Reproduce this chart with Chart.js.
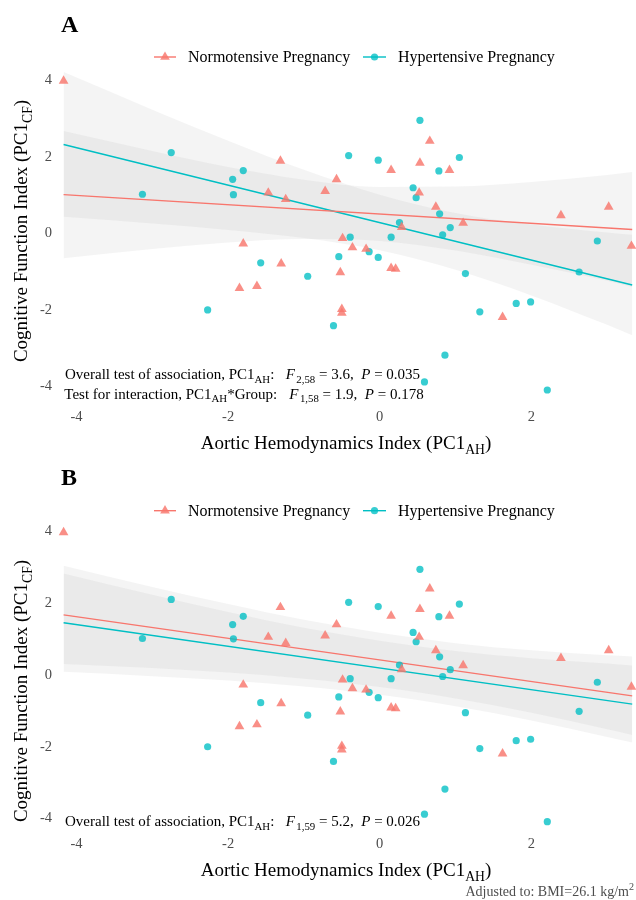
<!DOCTYPE html>
<html>
<head>
<meta charset="utf-8">
<script src="https://cdn.jsdelivr.net/npm/chart.js@4.4.0/dist/chart.umd.min.js"></script>
<style>
  html, body { margin: 0; padding: 0; background: #fff; }
  #wrap { position: relative; width: 636px; height: 900px; }
  .panel { position: absolute; left: 0; width: 636px; }
</style>
</head>
<body>
<div id="wrap">
  <div class="panel" style="top:0;height:458px"><canvas id="chartA"></canvas></div>
  <div class="panel" style="top:458px;height:442px"><canvas id="chartB"></canvas></div>
</div>
<script>
// ---- data ----
var normX  = [-4.17, -1.31, -1.47, -1.24, -0.72, -0.57, -1.80, 0.66, 0.15, 0.53, 0.92, 0.52, 0.74, 2.39, 3.02, 0.29, 1.10, -0.49, 3.32, -0.36, -0.18, -1.30, -1.85, -1.62, -0.52, -0.50, -0.50, 0.15, 0.21, 1.62];
var normY  = [3.98, 1.89, 1.06, 0.89, 1.10, 1.41, -0.27, 2.41, 1.65, 1.84, 1.65, 1.06, 0.69, 0.47, 0.69, 0.16, 0.27, -0.13, -0.33, -0.37, -0.41, -0.79, -1.43, -1.38, -1.02, -1.98, -2.08, -0.91, -0.93, -2.19];
var hyperX = [-2.75, -3.13, -1.94, -1.80, -1.93, 0.53, -0.41, -0.02, 0.78, 1.05, 0.44, 0.48, 0.79, 0.26, 0.93, 0.83, 0.15, -0.39, 2.87, -0.14, -0.54, -0.02, -1.57, -0.95, -2.27, -0.61, 1.13, 2.63, 1.80, 1.99, 1.32, 0.86, 0.59, 2.21];
var hyperY = [2.11, 1.02, 1.41, 1.64, 1.01, 2.95, 2.03, 1.91, 1.63, 1.98, 1.19, 0.93, 0.51, 0.28, 0.15, -0.04, -0.10, -0.10, -0.20, -0.48, -0.61, -0.63, -0.77, -1.12, -2.00, -2.41, -1.05, -1.01, -1.83, -1.79, -2.05, -3.18, -3.88, -4.09];

// fitted lines (ends) and confidence bands
var fitX = [-4.17, 3.33];
var aNormFit  = [1.01, 0.10];
var aHyperFit = [2.32, -1.35];
var bNormFit  = [1.68, -0.58];
var bHyperFit = [1.46, -0.81];

var bandX = [-4.17, -3, -2, -1, 0, 1, 2, 3, 3.33];
var aNormUpper  = [2.67, 2.15, 1.73, 1.40, 1.21, 1.22, 1.34, 1.52, 1.60];
var aNormLower  = [-0.65, -0.41, -0.24, -0.15, -0.20, -0.45, -0.82, -1.24, -1.40];
var aHyperUpper = [4.21, 3.23, 2.42, 1.66, 1.01, 0.53, 0.23, 0.02, -0.04];
var aHyperLower = [0.43, 0.26, 0.09, -0.12, -0.44, -0.95, -1.62, -2.39, -2.66];
var bNormUpper  = [3.05, 2.46, 1.98, 1.54, 1.18, 0.89, 0.69, 0.55, 0.52];
var bNormLower  = [0.31, 0.20, 0.07, -0.10, -0.33, -0.65, -1.05, -1.51, -1.67];
var bHyperUpper = [2.83, 2.24, 1.76, 1.32, 0.96, 0.67, 0.47, 0.32, 0.27];
var bHyperLower = [0.09, -0.03, -0.15, -0.32, -0.55, -0.87, -1.27, -1.73, -1.88];

var xTicks = [-4, -2, 0, 2];
var yTicks = [-4, -2, 0, 2, 4];

var groups = ['Normotensive Pregnancy', 'Hypertensive Pregnancy'];

// ---- styling ----
var RED = '#F8766D', TEAL = '#00BFC4';
var RED_PT = 'rgba(248,118,109,0.82)', TEAL_PT = 'rgba(0,191,196,0.78)';
var BAND = 'rgba(128,128,128,0.09)';
var SERIF = '"Liberation Serif", "Times New Roman", serif';
var TRI_R = 5.6, DOT_R = 3.6;

function pts(xs, ys) {
  return xs.map(function (x, i) { return { x: x, y: ys[i] }; });
}

function band(xs, ys, fillIt) {
  return {
    data: pts(xs, ys), showLine: true, borderWidth: 0, borderColor: 'transparent',
    pointRadius: 0, cubicInterpolationMode: 'monotone',
    fill: fillIt ? '-1' : false, backgroundColor: BAND, order: 3
  };
}

function makeDatasets(nFit, hFit, nUp, nLo, hUp, hLo) {
  return [
    { label: groups[0], data: pts(normX, normY), showLine: false, pointStyle: 'triangle',
      pointRadius: TRI_R, pointBackgroundColor: RED_PT, pointBorderWidth: 0,
      borderColor: 'transparent', clip: false, order: 0 },
    { label: groups[1], data: pts(hyperX, hyperY), showLine: false, pointStyle: 'circle',
      pointRadius: DOT_R, pointBackgroundColor: TEAL_PT, pointBorderWidth: 0,
      borderColor: 'transparent', clip: false, order: 0 },
    { data: pts(fitX, nFit), showLine: true, borderColor: RED, borderWidth: 1.4, pointRadius: 0, fill: false, order: 1 },
    { data: pts(fitX, hFit), showLine: true, borderColor: TEAL, borderWidth: 1.4, pointRadius: 0, fill: false, order: 1 },
    band(bandX, nLo, false),
    band(bandX, nUp, true),
    band(bandX, hLo, false),
    band(bandX, hUp, true)
  ];
}

// ---- rich text helpers (sub/superscripts, italics) ----
function fontFor(p, size) {
  var s = (p.sub || p.sup) ? size * 0.72 : size;
  return (p.italic ? 'italic ' : '') + (p.bold ? 'bold ' : '') + s + 'px ' + SERIF;
}
function richWidth(ctx, parts, size) {
  var w = 0;
  parts.forEach(function (p) { ctx.font = fontFor(p, size); w += (p.dx || 0) + ctx.measureText(p.t).width; });
  return w;
}
function drawRich(ctx, parts, x, y, size, align) {
  var w = richWidth(ctx, parts, size);
  if (align === 'center') x -= w / 2;
  else if (align === 'right') x -= w;
  ctx.textAlign = 'left';
  ctx.textBaseline = 'alphabetic';
  parts.forEach(function (p) {
    ctx.font = fontFor(p, size);
    x += p.dx || 0;
    var dy = p.sub ? size * 0.25 : (p.sup ? -size * 0.4 : 0);
    ctx.fillText(p.t, x, y + dy);
    x += ctx.measureText(p.t).width;
  });
}

function drawLegend(ctx, cy) {
  ctx.save();
  ctx.lineWidth = 1.4;
  // normotensive key
  ctx.strokeStyle = RED;
  ctx.beginPath(); ctx.moveTo(154, cy); ctx.lineTo(176, cy); ctx.stroke();
  ctx.fillStyle = RED_PT;
  var r = TRI_R;
  ctx.beginPath();
  ctx.moveTo(165, cy - r);
  ctx.lineTo(165 + r * 0.866, cy + r / 2);
  ctx.lineTo(165 - r * 0.866, cy + r / 2);
  ctx.closePath(); ctx.fill();
  // hypertensive key
  ctx.strokeStyle = TEAL;
  ctx.beginPath(); ctx.moveTo(363, cy); ctx.lineTo(386, cy); ctx.stroke();
  ctx.fillStyle = TEAL_PT;
  ctx.beginPath(); ctx.arc(374.5, cy, DOT_R, 0, Math.PI * 2); ctx.fill();
  ctx.fillStyle = '#000';
  drawRich(ctx, [{ t: groups[0] }], 188, cy + 5.3, 16);
  drawRich(ctx, [{ t: groups[1] }], 398, cy + 5.3, 16);
  ctx.restore();
}

function textPlugin(cfg) {
  return {
    id: 'texts',
    afterDraw: function (chart) {
      var ctx = chart.ctx;
      ctx.save();
      ctx.fillStyle = '#000';
      drawRich(ctx, [{ t: cfg.tag, bold: true }], 61, cfg.tagY, 24);
      drawLegend(ctx, cfg.legendY);
      cfg.notes.forEach(function (n) {
        drawRich(ctx, n.left, n.x, n.y, 15);
        drawRich(ctx, n.right, n.fx, n.y, 15);
      });
      drawRich(ctx, [{ t: 'Aortic Hemodynamics Index (PC1' }, { t: 'AH', sub: true }, { t: ')' }], 346, cfg.xTitleY, 19, 'center');
      ctx.save();
      ctx.translate(27, cfg.yTitleY);
      ctx.rotate(-Math.PI / 2);
      drawRich(ctx, [{ t: 'Cognitive Function Index (PC1' }, { t: 'CF', sub: true }, { t: ')' }], 0, 0, 19, 'center');
      ctx.restore();
      if (cfg.footer) {
        ctx.fillStyle = '#4D4D4D';
        drawRich(ctx, [{ t: 'Adjusted to: BMI=26.1 kg/m' }, { t: '2', sup: true }], 634, cfg.footer, 14, 'right');
      }
      ctx.restore();
    }
  };
}

function fStat(df, f, p) {
  return [{ t: 'F', italic: true }, { t: df, sub: true, dx: 1.5 }, { t: ' = ' + f + ',  ' }, { t: 'P', italic: true }, { t: ' = ' + p }];
}

function makeChart(id, datasets, yMin, yMax, padTop, padBottom, cfg) {
  return new Chart(document.getElementById(id), {
    type: 'line',
    data: { datasets: datasets },
    options: {
      responsive: true,
      maintainAspectRatio: false,
      animation: false,
      layout: { autoPadding: false, padding: { left: 0, right: 0, top: padTop, bottom: padBottom } },
      plugins: { legend: { display: false }, tooltip: { enabled: false } },
      scales: {
        x: {
          type: 'linear', min: -4.27, max: 3.38,
          grid: { display: false, drawTicks: false }, border: { display: false },
          ticks: { font: { family: SERIF, size: 14.5 }, color: '#4D4D4D', padding: 1.3,
                   callback: function (v) { return String(v); } },
          afterBuildTicks: function (s) { s.ticks = xTicks.map(function (v) { return { value: v }; }); },
          afterFit: function (s) { s.height = 20; s.paddingLeft = 0; s.paddingRight = 0; }
        },
        y: {
          type: 'linear', min: yMin, max: yMax,
          grid: { display: false, drawTicks: false }, border: { display: false },
          ticks: { font: { family: SERIF, size: 14.5 }, color: '#4D4D4D', padding: 4,
                   callback: function (v) { return String(v); } },
          afterBuildTicks: function (s) { s.ticks = yTicks.map(function (v) { return { value: v }; }); },
          afterFit: function (s) { s.width = 56; s.paddingTop = 0; s.paddingBottom = 0; }
        }
      }
    },
    plugins: [textPlugin(cfg)]
  });
}

makeChart('chartA',
  makeDatasets(aNormFit, aHyperFit, aNormUpper, aNormLower, aHyperUpper, aHyperLower),
  -4.55, 4.8, 49.5, 30.4,
  {
    tag: 'A', tagY: 32, legendY: 57, xTitleY: 449.4, yTitleY: 231,
    notes: [
      { x: 65, fx: 285.7, y: 379,
        left: [{ t: 'Overall test of association, PC1' }, { t: 'AH', sub: true }, { t: ':' }],
        right: fStat('2,58', '3.6', '0.035') },
      { x: 64.3, fx: 289.3, y: 398.5,
        left: [{ t: 'Test for interaction, PC1' }, { t: 'AH', sub: true }, { t: '*Group:' }],
        right: fStat('1,58', '1.9', '0.178') }
    ]
  });

makeChart('chartB',
  makeDatasets(bNormFit, bHyperFit, bNormUpper, bNormLower, bHyperUpper, bHyperLower),
  -4.45, 4.8, 45, 45.4,
  {
    tag: 'B', tagY: 27, legendY: 52.7, xTitleY: 418, yTitleY: 233, footer: 438,
    notes: [
      { x: 65, fx: 285.7, y: 368,
        left: [{ t: 'Overall test of association, PC1' }, { t: 'AH', sub: true }, { t: ':' }],
        right: fStat('1,59', '5.2', '0.026') }
    ]
  });
</script>
</body>
</html>
